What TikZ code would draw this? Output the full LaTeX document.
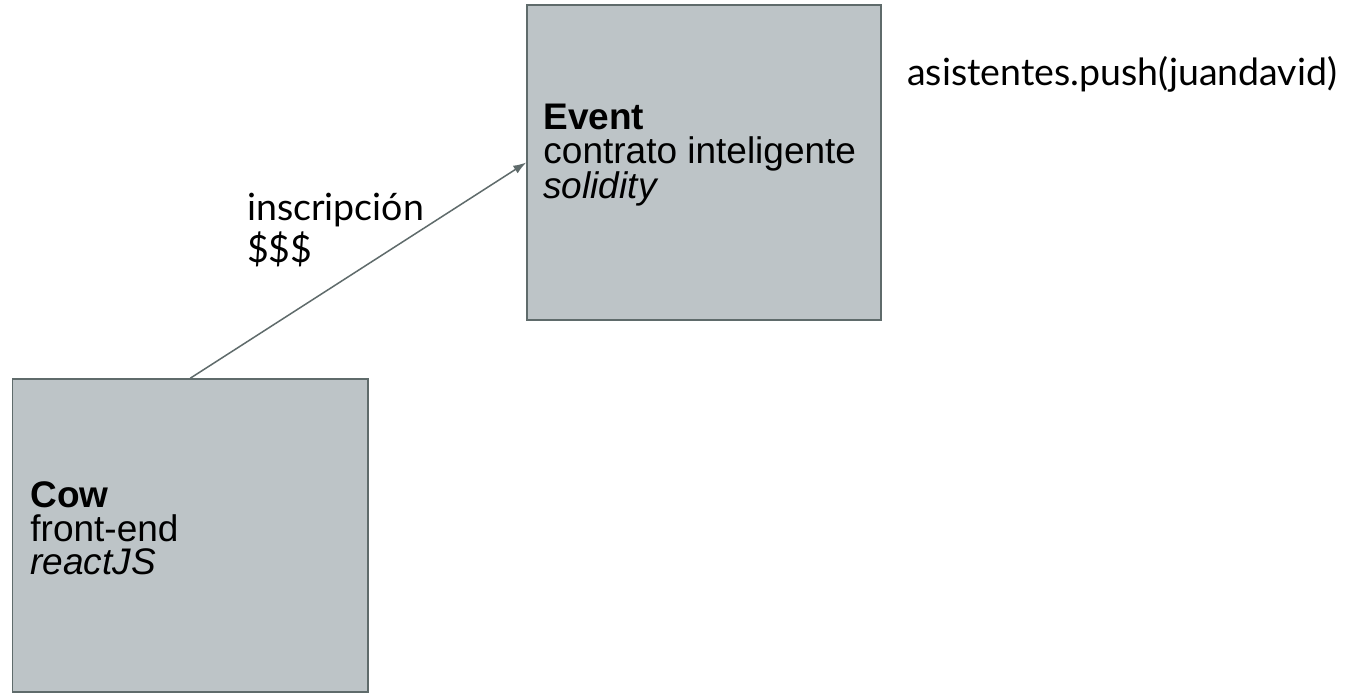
\documentclass[tikz,border=0pt]{standalone}
\usepackage{fontspec}
\setmainfont{Liberation Sans}
\newfontfamily\latofont{Lato}
\usetikzlibrary{arrows.meta}
\definecolor{boxfill}{HTML}{BDC4C7}
\definecolor{boxline}{HTML}{5F6B6B}
\begin{document}
\begin{tikzpicture}[x=1pt,y=-1pt,
  blockbox/.style={draw=boxline,fill=boxfill,line width=1.5pt,rectangle,inner sep=0pt},
  boxtext/.style={inner sep=0pt,anchor=west,align=left,
    font=\fontsize{37}{33.5}\selectfont},
  lbl/.style={inner sep=0pt,anchor=base west,align=left,
    font=\latofont\fontsize{37.5}{42}\selectfont},
  conn/.style={draw=boxline,line width=1.5pt,-{Latex[length=13pt,width=9pt]}}]
\useasboundingbox (0,0) rectangle (1346,693);
\fill[white] (0,0) rectangle (1346,693);
\node[blockbox,minimum width=354pt,minimum height=315pt] (event) at (704,162.5) {};
\node[boxtext] (eventtext) at ([xshift=17pt,yshift=7pt]event.west)
  {\textbf{Event}\\contrato inteligente\\\textit{solidity}};
\node[blockbox,minimum width=355.5pt,minimum height=313pt] (cow) at (190.25,535.5) {};
\node[boxtext] (cowtext) at ([xshift=18.5pt,yshift=7pt]cow.west)
  {\textbf{Cow}\\front-end\\\textit{reactJS}};
\draw[conn] (cow.north) -- (event.west);
\node[lbl] (insc) at (247,262) {inscripción\\\$\$\$};
\node[lbl] (push) at (907,85) {asistentes.push(juandavid)};
\end{tikzpicture}
\end{document}
